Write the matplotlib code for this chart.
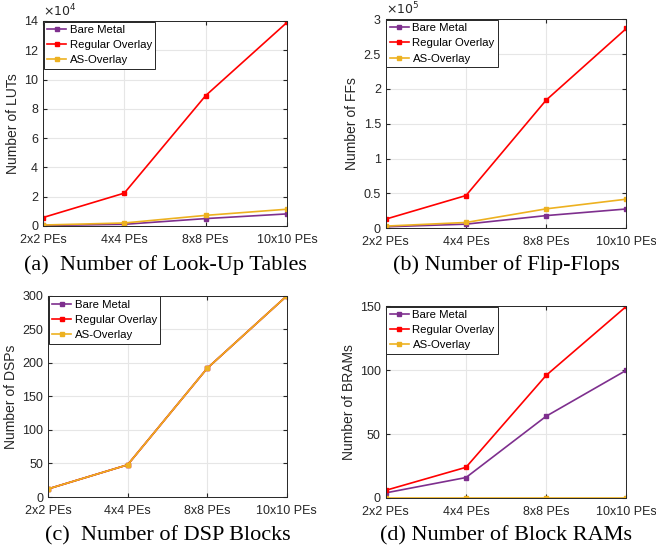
import matplotlib
matplotlib.use("Agg")
import matplotlib.pyplot as plt
from matplotlib.ticker import FuncFormatter

plt.rcParams['font.family'] = ['Liberation Sans', 'DejaVu Sans']

pes = ['2x2 PEs', '4x4 PEs', '8x8 PEs', '10x10 PEs']
series_names = ['Bare Metal', 'Regular Overlay', 'AS-Overlay']
colors = ['#7E2F8E', '#FF0000', '#EDB120']

# LUTs
luts_bare = [300, 1100, 5000, 8200]
luts_regular = [5700, 22400, 89000, 139000]
luts_as = [600, 2000, 7200, 11400]

# FFs
ffs_bare = [1900, 5700, 18000, 27500]
ffs_regular = [12900, 46800, 184000, 287000]
ffs_as = [2900, 8100, 27700, 41600]

# DSPs
dsps_bare = [12, 48, 192, 300]
dsps_regular = [12, 48, 192, 300]
dsps_as = [12, 48, 192, 300]

# BRAMs
brams_bare = [4, 16, 64, 100]
brams_regular = [6, 24, 96, 150]
brams_as = [0, 0, 0, 0]

panels = [
    dict(rect=[0.0655, 0.590, 0.372, 0.372], data=[luts_bare, luts_regular, luts_as],
         ylabel='Number of LUTs', ylim=(0, 140000), ticks=range(0, 140001, 20000), sci=4,
         caption='(a)  Number of Look-Up Tables', cap_y=0.519),
    dict(rect=[0.588, 0.586, 0.367, 0.379], data=[ffs_bare, ffs_regular, ffs_as],
         ylabel='Number of FFs', ylim=(0, 300000), ticks=range(0, 300001, 50000), sci=5,
         caption='(b) Number of Flip-Flops', cap_y=0.519),
    dict(rect=[0.0732, 0.098, 0.364, 0.365], data=[dsps_bare, dsps_regular, dsps_as],
         ylabel='Number of DSPs', ylim=(0, 300), ticks=range(0, 301, 50), sci=None,
         caption='(c)  Number of DSP Blocks', cap_y=0.027),
    dict(rect=[0.588, 0.0962, 0.367, 0.348], data=[brams_bare, brams_regular, brams_as],
         ylabel='Number of BRAMs', ylim=(0, 150), ticks=range(0, 151, 50), sci=None,
         caption='(d) Number of Block RAMs', cap_y=0.027),
]

fig = plt.figure(figsize=(6.56, 5.51), dpi=100)

for p in panels:
    ax = fig.add_axes(p['rect'])
    x = range(len(pes))
    for vals, name, c in zip(p['data'], series_names, colors):
        ax.plot(x, vals, color=c, lw=1.2, marker='s', markersize=3,
                markerfacecolor=c, markeredgecolor=c, label=name)
    ax.set_xlim(0, 3)
    ax.set_ylim(*p['ylim'])
    ax.set_xticks(list(x))
    ax.set_xticklabels(pes)
    ax.set_yticks(list(p['ticks']))
    if p['sci']:
        scale = 10 ** p['sci']
        ax.yaxis.set_major_formatter(FuncFormatter(lambda v, _, s=scale: '%g' % (v / s)))
        ax.text(0.0, 1.01, r'$\times10^{%d}$' % p['sci'], transform=ax.transAxes,
                ha='left', va='bottom', fontsize=9, color='#262626')
    ax.grid(True, color='#e6e6e6', lw=0.8)
    ax.set_axisbelow(True)
    ax.tick_params(direction='in', length=3, labelsize=9, colors='#262626',
                   top=True, right=True)
    ax.tick_params(axis='x', pad=6)
    for s in ax.spines.values():
        s.set_color('#262626')
        s.set_linewidth(0.7)
    ax.set_ylabel(p['ylabel'], fontsize=10, color='#262626', labelpad=3)
    leg = ax.legend(loc='upper left', fontsize=8.2, frameon=True, fancybox=False,
                    framealpha=1, edgecolor='#262626', handlelength=1.7,
                    handletextpad=0.3, borderpad=0.3, labelspacing=0.45,
                    borderaxespad=0.05)
    leg.get_frame().set_linewidth(0.7)
    r = p['rect']
    fig.text(r[0] + r[2] / 2, p['cap_y'], p['caption'], ha='center', va='center',
             fontsize=16, family='Liberation Serif')

fig.savefig('out.png', dpi=100)
